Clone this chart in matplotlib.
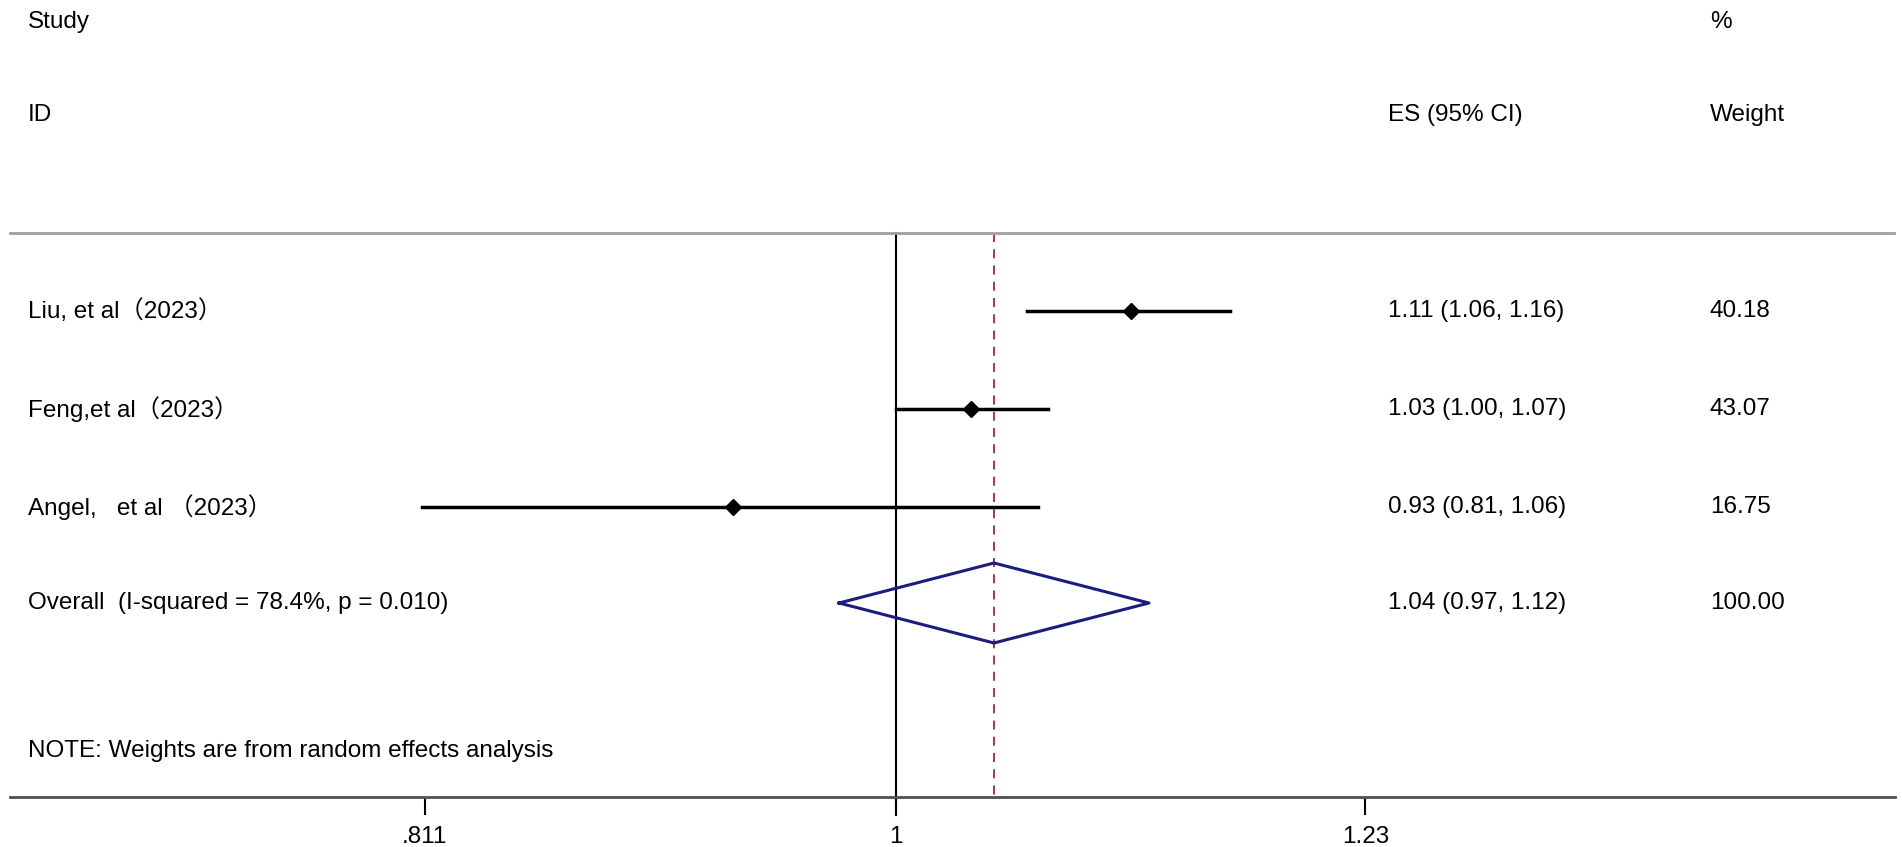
import numpy as np
import matplotlib.pyplot as plt
from matplotlib.transforms import blended_transform_factory

plt.rcParams['font.family'] = ['Liberation Sans', 'Noto Sans CJK SC', 'DejaVu Sans']

studies = ['Liu, et al（2023）', 'Feng,et al（2023）', 'Angel,   et al （2023）']
est = [1.11, 1.034, 0.93]
lo = [1.06, 1.00, 0.81]
hi = [1.16, 1.07, 1.065]
es_text = ['1.11 (1.06, 1.16)', '1.03 (1.00, 1.07)', '0.93 (0.81, 1.06)']
weights = ['40.18', '43.07', '16.75']

overall_label = 'Overall  (I-squared = 78.4%, p = 0.010)'
overall_est = 1.0445
overall_lo = 0.975
overall_hi = 1.119
overall_text = '1.04 (0.97, 1.12)'
overall_weight = '100.00'

xticks = [0.811, 1, 1.232]
xticklabels = ['.811', '1', '1.23']

fig = plt.figure(figsize=(19.02, 8.47), dpi=100)
ax = fig.add_axes([0, 0, 1, 1])
ax.set_xscale('log')
ax.set_xlim(np.exp(-0.3982), np.exp(0.4471))
ax.set_ylim(847, 0)
for s in ['top', 'right', 'left']:
    ax.spines[s].set_visible(False)
ax.set_yticks([])
ax.minorticks_off()

tr = blended_transform_factory(ax.transAxes, ax.transData)
fs = 17.5
x_id, x_es, x_wt = 0.0147, 0.730, 0.899

# layout rows (pixel rows)
row_y = [311, 409, 507]
over_y = 603
top_y = 233
axis_y = 797

# headers
ax.text(x_id, 22, 'Study', transform=tr, fontsize=fs, va='center')
ax.text(x_id, 115, 'ID', transform=tr, fontsize=fs, va='center')
ax.text(x_es, 115, 'ES (95% CI)', transform=tr, fontsize=fs, va='center')
ax.text(x_wt, 22, '%', transform=tr, fontsize=fs, va='center')
ax.text(x_wt, 115, 'Weight', transform=tr, fontsize=fs, va='center')

ax.plot([0.005, 0.996], [top_y, top_y], transform=tr, color='#a0a0a0', lw=2)

# reference lines
ax.plot([1, 1], [top_y, 815], color='black', lw=1.5, zorder=1)
ax.plot([overall_est, overall_est], [top_y, axis_y], color='#a0283c', lw=1.3,
        ls=(0, (5, 4)), zorder=1)

for i in range(len(studies)):
    y = row_y[i]
    ax.plot([lo[i], hi[i]], [y, y], color='black', lw=2.5, zorder=3)
    ax.plot(est[i], y, marker='D', color='black', ms=8, zorder=4)
    ax.text(x_id, y, studies[i], transform=tr, fontsize=fs, va='center')
    ax.text(x_es, y, es_text[i], transform=tr, fontsize=fs, va='center')
    ax.text(x_wt, y, weights[i], transform=tr, fontsize=fs, va='center')

# pooled diamond
ax.plot([overall_lo, overall_est, overall_hi, overall_est, overall_lo],
        [over_y, over_y - 40, over_y, over_y + 40, over_y],
        color='#1c1c80', lw=2.2, zorder=3)
ax.text(x_id, over_y, overall_label, transform=tr, fontsize=fs, va='center')
ax.text(x_es, over_y, overall_text, transform=tr, fontsize=fs, va='center')
ax.text(x_wt, over_y, overall_weight, transform=tr, fontsize=fs, va='center')

ax.text(x_id, 751, 'NOTE: Weights are from random effects analysis', transform=tr,
        fontsize=fs, va='center')

# x axis
ax.spines['bottom'].set_position(('data', axis_y))
ax.spines['bottom'].set_bounds(np.exp(-0.3938), np.exp(0.444))
ax.spines['bottom'].set_linewidth(2)
ax.spines['bottom'].set_color('#505050')
ax.set_xticks(xticks)
ax.set_xticklabels(xticklabels, fontsize=fs)
ax.tick_params(axis='x', direction='out', length=13, width=1.5, pad=8)

fig.savefig('out.png', dpi=100)
